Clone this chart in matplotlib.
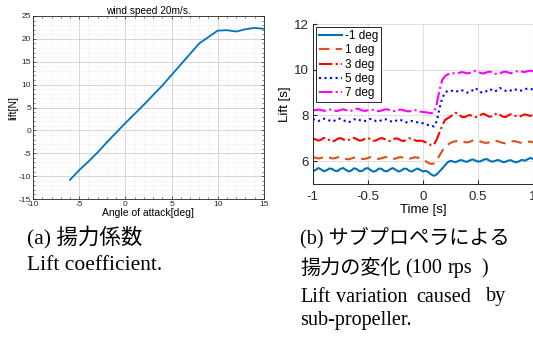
import numpy as np
import matplotlib.pyplot as plt
from matplotlib.ticker import MultipleLocator

plt.rcParams['font.family'] = ['Liberation Sans', 'DejaVu Sans']
plt.rcParams['axes.unicode_minus'] = False

# (a) lift vs angle of attack
aoa = [-6, -5, -4, -3, -2, -1, 0, 1, 2, 3, 4, 5, 6, 7, 8, 9, 10, 11, 12, 13, 14, 15]
lift_n = [-10.8, -8.7, -6.8, -4.8, -2.6, -0.5, 1.6, 3.6, 5.6, 7.7, 9.8, 12.1,
          14.4, 16.7, 19.0, 20.4, 21.8, 21.9, 21.6, 22.1, 22.4, 22.2]

# (b) lift time series, sampled every 0.025 s
t = np.round(np.arange(-1.0, 1.0001, 0.025), 3)
lift_m1 = [5.55, 5.62, 5.70, 5.64, 5.56, 5.60, 5.68, 5.66, 5.58, 5.57, 5.66, 5.70, 5.62, 5.55, 5.60, 5.69,
           5.65, 5.56, 5.58, 5.67, 5.70, 5.61, 5.54, 5.58, 5.68, 5.66, 5.57, 5.56, 5.64, 5.70, 5.63, 5.55,
           5.58, 5.67, 5.67, 5.58, 5.55, 5.62, 5.68, 5.62,
           5.55, 5.58, 5.52, 5.42, 5.36, 5.42, 5.55, 5.68, 5.82,
           5.95, 6.02, 5.98, 5.96, 6.02, 6.05, 6.00, 5.97, 6.03, 6.08, 6.03, 5.98, 6.00, 6.06, 6.10, 6.04,
           5.98, 6.00, 6.05, 6.03, 5.96, 5.97, 6.03, 6.04, 5.98, 5.95, 6.00, 6.06, 6.02, 6.08, 6.14, 6.10]
lift_1 = [6.18, 6.15, 6.12, 6.14, 6.18, 6.20, 6.16, 6.12, 6.13, 6.17, 6.19, 6.15, 6.10, 6.08, 6.12, 6.16,
          6.18, 6.14, 6.10, 6.10, 6.14, 6.18, 6.17, 6.12, 6.10, 6.13, 6.17, 6.18, 6.14, 6.10, 6.11, 6.16,
          6.18, 6.15, 6.11, 6.10, 6.14, 6.17, 6.16, 6.12,
          6.08, 6.00, 5.92, 5.88, 5.90, 6.05, 6.25, 6.45, 6.62,
          6.72, 6.80, 6.85, 6.88, 6.90, 6.88, 6.84, 6.82, 6.85, 6.90, 6.93, 6.90, 6.86, 6.82, 6.80, 6.82,
          6.87, 6.90, 6.88, 6.84, 6.80, 6.78, 6.80, 6.85, 6.88, 6.86, 6.82, 6.80, 6.81, 6.84, 6.86, 6.82]
lift_3 = [7.00, 6.95, 6.90, 6.94, 7.02, 7.00, 6.92, 6.85, 6.90, 6.98, 7.01, 6.96, 6.90, 6.93, 7.00, 7.02,
          6.96, 6.90, 6.92, 6.99, 7.02, 6.96, 6.89, 6.91, 6.98, 7.01, 6.97, 6.90, 6.88, 6.94, 7.00, 6.98,
          6.91, 6.88, 6.93, 7.00, 6.99, 6.92, 6.88, 6.90,
          6.88, 6.82, 6.76, 6.70, 6.72, 6.95, 7.25, 7.55, 7.80,
          7.88, 7.95, 8.05, 8.12, 8.05, 7.95, 7.92, 7.98, 8.02, 7.98, 7.93, 7.95, 8.03, 8.08, 8.02, 7.95,
          7.96, 8.05, 8.10, 8.03, 7.95, 7.93, 8.00, 8.06, 8.02, 7.96, 7.94, 8.00, 8.05, 8.02, 7.98, 8.02]
lift_5 = [7.85, 7.80, 7.76, 7.80, 7.86, 7.84, 7.78, 7.74, 7.78, 7.85, 7.86, 7.80, 7.74, 7.70, 7.76, 7.83,
          7.85, 7.80, 7.75, 7.76, 7.82, 7.85, 7.81, 7.75, 7.74, 7.80, 7.84, 7.82, 7.76, 7.72, 7.76, 7.82,
          7.80, 7.74, 7.70, 7.72, 7.76, 7.74, 7.70, 7.68,
          7.66, 7.62, 7.58, 7.55, 7.52, 7.75, 8.30, 8.75, 9.00,
          9.08, 9.10, 9.06, 9.04, 9.08, 9.12, 9.05, 9.00, 9.02, 9.10, 9.20, 9.12, 9.02, 9.00, 9.06, 9.15,
          9.12, 9.05, 9.10, 9.20, 9.15, 9.08, 9.05, 9.10, 9.16, 9.12, 9.08, 9.10, 9.15, 9.18, 9.16, 9.14]
lift_7 = [8.22, 8.24, 8.26, 8.24, 8.20, 8.22, 8.26, 8.25, 8.21, 8.20, 8.24, 8.27, 8.24, 8.20, 8.21, 8.25,
          8.30, 8.27, 8.22, 8.20, 8.23, 8.26, 8.24, 8.20, 8.19, 8.22, 8.26, 8.27, 8.23, 8.19, 8.20, 8.24,
          8.26, 8.23, 8.19, 8.18, 8.22, 8.24, 8.21, 8.17,
          8.15, 8.14, 8.12, 8.10, 8.14, 8.50, 9.10, 9.55, 9.72,
          9.80, 9.84, 9.85, 9.84, 9.86, 9.90, 9.88, 9.84, 9.86, 9.92, 9.95, 9.90, 9.86, 9.84, 9.88, 9.92,
          9.90, 9.84, 9.80, 9.84, 9.90, 9.92, 9.88, 9.85, 9.88, 9.93, 9.95, 9.92, 9.90, 9.94, 9.96, 9.94]

fig = plt.figure(figsize=(5.33, 3.44), dpi=100)

# ---- left panel ----
ax1 = fig.add_axes([0.062, 0.4215, 0.433, 0.532])
ax1.plot(aoa, lift_n, color="#0072BD", lw=1.3)
ax1.set_xlim(-10, 15)
ax1.set_ylim(-15, 25)
ax1.xaxis.set_major_locator(MultipleLocator(5))
ax1.yaxis.set_major_locator(MultipleLocator(5))
ax1.xaxis.set_minor_locator(MultipleLocator(1))
ax1.yaxis.set_minor_locator(MultipleLocator(1))
ax1.grid(True, which="major", color="#d0d0d0", lw=0.6)
ax1.grid(True, which="minor", color="#e0e0e0", lw=0.4, linestyle=":")
ax1.tick_params(which="both", direction="in", top=True, right=True, labelsize=6, colors="#262626", pad=1.5)
ax1.tick_params(which="major", length=2.5, width=0.5)
ax1.tick_params(which="minor", length=1.3, width=0.4)
for s in ax1.spines.values():
    s.set_linewidth(0.6)
    s.set_color("#262626")
ax1.set_title("wind speed 20m/s.", fontsize=7.3, pad=1.5)
ax1.set_xlabel("Angle of attack[deg]", fontsize=7.5, labelpad=0)
ax1.set_ylabel("lift[N]", fontsize=7.5, labelpad=0)

# ---- right panel ----
ax2 = fig.add_axes([0.587, 0.465, 0.413, 0.465])
ax2.plot(t, lift_m1, color="#0072BD", lw=1.5, linestyle="-", label="-1 deg")
ax2.plot(t, lift_1, color="#D95319", lw=1.5, linestyle=(0, (5, 3)), label="1 deg")
ax2.plot(t, lift_3, color="#FF0000", lw=1.5, linestyle="-.", label="3 deg")
ax2.plot(t, lift_5, color="#0000FF", lw=1.5, linestyle=":", label="5 deg")
ax2.plot(t, lift_7, color="#FF00FF", lw=1.5, linestyle="-.", label="7 deg")
ax2.set_xlim(-1, 1)
ax2.set_ylim(5, 12)
ax2.set_xticks([-1, -0.5, 0, 0.5, 1])
ax2.set_xticklabels(["-1", "-0.5", "0", "0.5", "1"])
ax2.set_yticks([6, 8, 10, 12])
ax2.grid(True, color="#e0e0e0", lw=0.8)
ax2.spines["top"].set_visible(False)
ax2.spines["right"].set_visible(False)
for s in ["left", "bottom"]:
    ax2.spines[s].set_color("#262626")
    ax2.spines[s].set_linewidth(0.7)
ax2.tick_params(direction="in", length=3, labelsize=9.5, colors="#262626", pad=3)
ax2.tick_params(axis="x", pad=5)
ax2.set_xlabel("Time [s]", fontsize=9.5, labelpad=1)
ax2.set_ylabel("Lift [s]", fontsize=9.5, labelpad=2)
leg = ax2.legend(loc="upper left", fontsize=8.5, handlelength=2.0, handletextpad=0.2,
                 labelspacing=0.2, borderpad=0.25, borderaxespad=0.25, fancybox=False,
                 framealpha=1, edgecolor="#262626")
leg.get_frame().set_linewidth(0.7)

# ---- captions ----
serif = ["Liberation Serif", "Noto Sans CJK JP"]
cap_a = dict(fontsize=15.5, family=serif, va="center")
cap = dict(fontsize=14.5, family=serif, va="center")
fig.text(27 / 533, 1 - 238 / 344, "(a) 揚力係数", **cap_a)
fig.text(27 / 533, 1 - 266 / 344, "Lift coefficient.", **cap_a)
fig.text(300 / 533, 1 - 238 / 344, "(b) サブプロペラによる", **cap)
fig.text(300 / 533, 1 - 269 / 344, "揚力の変化", **cap)
for word, x in [("(100", 405), ("rps", 448), (")", 481)]:
    fig.text(x / 533, 1 - 269 / 344, word, **cap)
for word, x in [("Lift", 300), ("variation", 336), ("caused", 416), ("by", 486)]:
    fig.text(x / 533, 1 - 297 / 344, word, **cap)
fig.text(300 / 533, 1 - 321 / 344, "sub-propeller.", **cap)

fig.savefig("out.png", dpi=100)
